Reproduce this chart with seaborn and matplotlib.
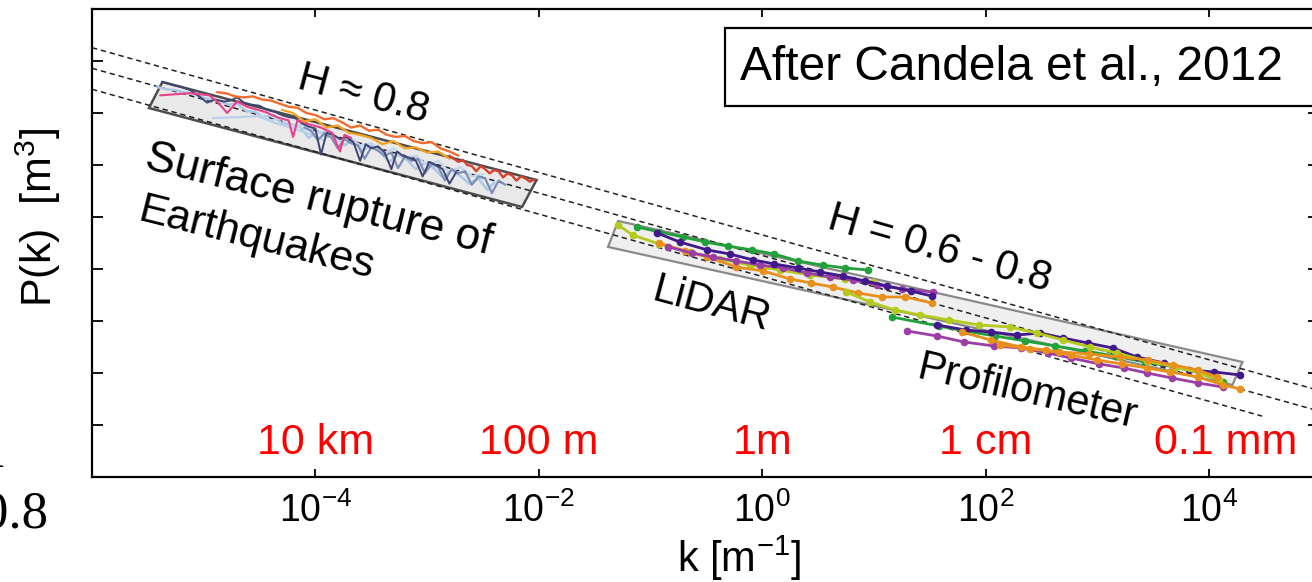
import numpy as np
import matplotlib
matplotlib.use("Agg")
import matplotlib.pyplot as plt
import matplotlib.transforms as mtransforms
from matplotlib.patches import Polygon, Rectangle
from matplotlib.ticker import NullLocator, FixedLocator, FixedFormatter
import seaborn as sns

sns.set_theme(style="ticks")
plt.rcParams['font.family'] = ['Liberation Sans', 'DejaVu Sans']
plt.rcParams['mathtext.fontset'] = 'custom'
plt.rcParams['mathtext.rm'] = 'Liberation Sans'
plt.rcParams['mathtext.it'] = 'Liberation Sans:italic'
plt.rcParams['mathtext.default'] = 'regular'

# ---------------- data (log10 k [1/m], log10 P(k)) ----------------
# reference power-law lines (endpoints)
ref_logk_start = [-6.0, -6.0, -6.0]
ref_logk_end = [4.985, 4.985, 4.475]
ref_logP_start = [16.28, 14.30, 12.28]
ref_logP_end = [-16.675, -18.655, -19.145]

# grey envelopes
box1_logk = [-5.37, -5.49, -2.15, -2.02]
box1_logP = [12.98, 10.48, 0.96, 3.56]
box2_logk = [-1.29, -1.38, 4.21, 4.30]
box2_logP = [-0.38, -2.88, -16.15, -13.94]

# surface rupture of earthquakes
eq_lightblue_logk = [-5.42, -5.34, -5.26, -5.18, -5.10, -5.02, -4.94, -4.86, -4.78, -4.70, -4.62, -4.54, -4.46,
                     -4.38, -4.30, -4.22, -4.14, -4.06, -3.98, -3.90, -3.82, -3.74, -3.66, -3.58, -3.50, -3.42,
                     -3.34, -3.26, -3.18, -3.10, -3.02, -2.94, -2.86, -2.78, -2.70, -2.62, -2.54, -2.46, -2.40]
eq_lightblue_logP = [12.5, 12.3, 12.2, 12.0, 11.9, 11.5, 11.3, 11.2, 10.8, 10.9, 10.2, 10.1, 9.6,
                     9.8, 9.0, 8.9, 8.7, 7.6, 8.3, 7.7, 7.8, 6.9, 7.4, 6.4, 6.9, 6.2,
                     5.3, 6.0, 5.5, 4.6, 5.2, 4.7, 3.8, 4.5, 3.9, 3.2, 3.7, 2.6, 3.3]
eq_paleblue_logk = [-4.50, -4.40, -4.30, -4.20, -4.10, -4.00, -3.90, -3.80, -3.70, -3.60, -3.50,
                    -3.40, -3.30, -3.20, -3.10, -3.00, -2.90, -2.80, -2.70, -2.60, -2.50]
eq_paleblue_logP = [9.9, 9.3, 9.5, 8.7, 8.9, 8.0, 8.3, 7.3, 7.7, 6.9, 7.1,
                    6.1, 6.6, 5.7, 5.9, 5.0, 5.4, 4.3, 4.8, 3.9, 4.1]
eq_lightblue2_logk = [-4.92, -4.70, -4.52, -4.35, -4.23, -4.05, -3.93]
eq_lightblue2_logP = [9.5, 9.6, 9.7, 9.0, 8.6, 8.0, 7.4]
eq_slate_logk = [-4.10, -4.04, -3.98, -3.92, -3.86, -3.80, -3.74, -3.68, -3.62, -3.56, -3.50, -3.44, -3.38,
                 -3.32, -3.26, -3.20, -3.14, -3.08, -3.02, -2.96, -2.90, -2.84, -2.78, -2.72, -2.66, -2.60,
                 -2.54, -2.48, -2.42, -2.36, -2.30]
eq_slate_logP = [8.6, 8.3, 7.4, 8.0, 7.7, 6.6, 7.5, 7.1, 6.9, 5.6, 6.7, 6.4, 5.9,
                 6.2, 4.7, 5.8, 5.4, 5.6, 4.2, 5.1, 4.8, 3.5, 4.6, 4.2, 4.4, 3.1,
                 3.9, 3.7, 2.3, 3.5, 3.1]
eq_navy_logk = [-5.37, -5.28, -5.20, -5.12, -5.04, -4.97, -4.90, -4.82, -4.76, -4.70, -4.64, -4.57, -4.50,
                -4.43, -4.36, -4.30, -4.24, -4.18, -4.12, -4.06, -4.00, -3.95, -3.90, -3.84, -3.78, -3.72,
                -3.66, -3.60, -3.55, -3.50, -3.44, -3.38, -3.32, -3.27, -3.22, -3.16, -3.10, -3.04, -2.98,
                -2.92, -2.86, -2.80, -2.74]
eq_navy_logP = [13.0, 12.7, 12.5, 12.2, 11.6, 11.0, 11.3, 11.1, 11.2, 11.5, 11.0, 10.8, 10.7,
                10.3, 10.1, 9.8, 9.6, 9.5, 9.0, 8.7, 8.5, 6.0, 8.1, 7.9, 7.5, 7.7,
                7.2, 5.4, 7.0, 6.6, 6.8, 6.2, 4.6, 6.3, 5.9, 5.7, 5.4, 3.9, 5.3,
                5.0, 4.6, 3.2, 4.3]
eq_pink_logk = [-5.39, -5.12, -4.95, -4.88, -4.79, -4.70, -4.61, -4.45, -4.32, -4.24, -4.20, -4.16,
                -4.05, -3.95, -3.85, -3.78, -3.74, -3.68]
eq_pink_logP = [11.7, 11.9, 11.7, 11.1, 10.0, 11.1, 10.6, 10.1, 9.5, 9.3, 7.7, 9.3,
                8.9, 8.6, 8.1, 6.3, 7.9, 7.6]
eq_amber_logk = [-4.30, -4.20, -4.10, -4.00, -3.90, -3.80, -3.70, -3.60, -3.50, -3.40, -3.30, -3.20,
                 -3.10, -3.00, -2.90, -2.80]
eq_amber_logP = [10.3, 10.0, 9.2, 9.4, 8.6, 8.8, 8.1, 7.9, 7.6, 7.0, 7.3, 6.6,
                 6.7, 6.2, 6.3, 5.6]
eq_orange_logk = [-4.88, -4.80, -4.72, -4.64, -4.56, -4.48, -4.40, -4.32, -4.24, -4.16, -4.08, -4.00, -3.92, -3.84,
                  -3.76, -3.68, -3.60, -3.52, -3.44, -3.36, -3.28, -3.20, -3.12, -3.04, -2.96, -2.88, -2.80, -2.72]
eq_orange_logP = [12.0, 11.9, 11.6, 11.5, 11.6, 11.3, 11.2, 10.9, 10.6, 10.5, 10.0, 9.8, 9.4, 9.5,
                  9.1, 8.6, 8.8, 8.3, 8.4, 7.9, 7.7, 7.8, 7.3, 7.1, 7.2, 6.6, 6.3, 5.9]
eq_red_logk = [-2.80, -2.76, -2.72, -2.68, -2.64, -2.60, -2.56, -2.52, -2.48, -2.44,
               -2.40, -2.36, -2.32, -2.28, -2.24, -2.20, -2.16, -2.12, -2.08, -2.04]
eq_red_logP = [5.9, 5.6, 5.3, 5.5, 5.0, 4.9, 4.4, 4.9, 4.6, 4.2,
               4.5, 4.4, 3.8, 4.2, 4.0, 3.5, 3.9, 3.7, 3.4, 3.6]

# LiDAR
lidar_green_logk = [-1.12, -0.92, -0.71, -0.51, -0.31, -0.09, 0.11, 0.32, 0.54, 0.74, 0.95]
lidar_green_logP = [-0.96, -1.44, -1.92, -2.40, -2.79, -3.17, -3.56, -4.23, -4.62, -4.90, -5.10]
lidar_indigo_logk = [-0.94, -0.74, -0.49, -0.29, -0.08, 0.11, 0.32, 0.52, 0.72, 0.92, 1.12, 1.33, 1.52]
lidar_indigo_logP = [-1.54, -2.40, -3.17, -3.56, -4.13, -4.52, -4.90, -5.29, -5.67, -6.15, -6.63, -7.12, -7.60]
lidar_magenta_logk = [-0.84, -0.63, -0.44, -0.23, -0.02, 0.19, 0.40, 0.61, 0.81, 1.03, 1.25, 1.53]
lidar_magenta_logP = [-2.88, -3.46, -3.85, -4.23, -4.62, -4.90, -5.38, -5.77, -6.06, -6.54, -6.92, -7.21]
lidar_orange_logk = [-0.92, -0.69, -0.49, -0.23, 0.01, 0.25, 0.44, 0.63, 0.86, 1.07, 1.28, 1.52]
lidar_orange_logP = [-2.50, -3.27, -3.85, -4.81, -5.19, -5.96, -6.35, -6.73, -7.31, -7.69, -7.69, -8.27]
lidar_lime_logk = [-1.29, -1.16, -0.92, -0.65, -0.38, -0.11, 0.16, 0.43, 0.74, 0.99]
lidar_lime_logP = [-0.77, -1.73, -2.60, -3.37, -4.04, -4.62, -5.10, -5.58, -5.96, -6.25]

# Profilometer
prof_green_logk = [1.162, 1.583, 1.816, 2.084, 2.353, 2.621, 2.890, 3.158, 3.427, 3.695, 3.919, 4.125]
prof_green_logP = [-9.62, -10.48, -10.96, -11.44, -11.92, -12.40, -12.88, -13.37, -13.94, -14.42, -15.00, -15.87]
prof_magenta_logk = [1.296, 1.565, 1.807, 2.075, 2.317, 2.559, 2.765, 3.016, 3.239, 3.445, 3.669, 3.902, 4.125]
prof_magenta_logP = [-10.96, -11.44, -12.02, -12.40, -12.60, -13.08, -13.56, -14.13, -14.52, -15.00, -15.48,
                     -15.96, -16.35]
prof_indigo_logk = [1.565, 1.825, 2.048, 2.281, 2.487, 2.693, 2.917, 3.141, 3.355, 3.597, 3.821, 4.045, 4.278]
prof_indigo_logP = [-10.38, -10.87, -11.06, -11.35, -11.15, -11.63, -12.12, -12.60, -13.46, -14.04, -14.71,
                    -14.90, -15.19]
prof_orange_logk = [1.789, 2.048, 2.317, 2.541, 2.765, 2.998, 3.221, 3.445, 3.651, 3.902, 4.125, 4.278]
prof_orange_logP = [-11.06, -11.83, -12.50, -12.79, -13.27, -13.75, -14.13, -14.52, -14.90, -15.38, -16.15, -16.54]
prof_orange2_logk = [2.13, 2.40, 2.66, 2.93, 3.20, 3.45, 3.68, 3.90, 4.07]
prof_orange2_logP = [-12.31, -12.69, -12.98, -13.17, -13.46, -13.75, -14.23, -14.71, -15.38]
prof_lime_logk = [0.750, 0.965, 1.189, 1.413, 1.672, 1.941, 2.218, 2.460, 2.693, 2.934, 3.176, 3.445, 3.696,
                  3.919, 4.089]
prof_lime_logP = [-7.21, -8.17, -8.94, -9.42, -9.90, -10.38, -10.58, -11.15, -11.83, -12.50, -13.08, -13.85,
                  -14.42, -15.00, -15.67]

# axis ticks and labels
xtick_values = [1e-4, 1e-2, 1e0, 1e2, 1e4]
xtick_labels = [r'$10^{-4}$', r'$10^{-2}$', r'$10^{0}$', r'$10^{2}$', r'$10^{4}$']
ytick_values = [1e-20, 1e-15, 1e-10, 1e-5, 1e0, 1e5, 1e10, 1e15]
scale_label_k = [1e-4, 1e-2, 1e0, 1e2, 1.4e4]
scale_label_text = ['10 km', '100 m', '1m', '1 cm', '0.1 mm']

# ---------------- figure ----------------
fig = plt.figure(figsize=(13.12, 5.82), dpi=100)
fig.patch.set_facecolor('white')
ax = fig.add_axes([92 / 1312, 105 / 582, 1227 / 1312, 468 / 582])
ax.set_facecolor('white')
ax.set_xscale('log')
ax.set_yscale('log')
ax.set_xlim(1e-6, 10 ** 4.985)
ax.set_ylim(1e-25, 1e20)


def P(a):
    return 10 ** np.asarray(a, dtype=float)


# envelopes
ax.add_patch(Polygon(np.column_stack([P(box1_logk), P(box1_logP)]), closed=True,
                     facecolor='#e9e9e9', edgecolor='#4d4d4d', lw=1.8, zorder=1))
ax.add_patch(Polygon(np.column_stack([P(box2_logk), P(box2_logP)]), closed=True,
                     facecolor='#efefef', edgecolor='#8a8a8a', lw=1.6, zorder=1))

# dashed reference lines
for k0, k1, p0, p1 in zip(ref_logk_start, ref_logk_end, ref_logP_start, ref_logP_end):
    ax.plot(P([k0, k1]), P([p0, p1]), color='#222222', lw=1.1, linestyle=(0, (3.5, 2.5)), zorder=2)

# earthquake spectra
eq_series = [
    (eq_lightblue_logk, eq_lightblue_logP, '#aec7e5', 1.8),
    (eq_paleblue_logk, eq_paleblue_logP, '#c3d6ec', 1.6),
    (eq_lightblue2_logk, eq_lightblue2_logP, '#b8d0ea', 1.5),
    (eq_slate_logk, eq_slate_logP, '#7d8fb8', 1.6),
    (eq_navy_logk, eq_navy_logP, '#3f4470', 1.4),
    (eq_pink_logk, eq_pink_logP, '#e8408c', 1.5),
    (eq_amber_logk, eq_amber_logP, '#f5a31f', 1.6),
    (eq_orange_logk, eq_orange_logP, '#f26a2c', 1.7),
    (eq_red_logk, eq_red_logP, '#d6402f', 1.7),
]
for lk, lp, c, w in eq_series:
    sns.lineplot(x=P(lk), y=P(lp), ax=ax, color=c, lw=w, sort=False, estimator=None, zorder=3)

# LiDAR + profilometer
mk_series = [
    (lidar_green_logk, lidar_green_logP, '#22a03a'),
    (lidar_lime_logk, lidar_lime_logP, '#b4ca1c'),
    (lidar_orange_logk, lidar_orange_logP, '#e8901c'),
    (lidar_magenta_logk, lidar_magenta_logP, '#9b3fa6'),
    (lidar_indigo_logk, lidar_indigo_logP, '#42198a'),
    (prof_green_logk, prof_green_logP, '#22a03a'),
    (prof_magenta_logk, prof_magenta_logP, '#9b3fa6'),
    (prof_indigo_logk, prof_indigo_logP, '#42198a'),
    (prof_lime_logk, prof_lime_logP, '#b4ca1c'),
    (prof_orange2_logk, prof_orange2_logP, '#e8901c'),
    (prof_orange_logk, prof_orange_logP, '#e8901c'),
]
for lk, lp, c in mk_series:
    sns.lineplot(x=P(lk), y=P(lp), ax=ax, color=c, lw=2.0, marker='o', markersize=5.5,
                 markeredgewidth=0, sort=False, estimator=None, zorder=4)

# axes styling
for s in ax.spines.values():
    s.set_visible(True)
    s.set_color('black')
    s.set_linewidth(1.6)
ax.xaxis.set_major_locator(FixedLocator(xtick_values))
ax.xaxis.set_major_formatter(FixedFormatter(xtick_labels))
ax.xaxis.set_minor_locator(NullLocator())
ax.yaxis.set_major_locator(FixedLocator(ytick_values))
ax.yaxis.set_minor_locator(NullLocator())
ax.tick_params(axis='x', which='major', direction='in', length=6, width=1.3, top=True,
               labelsize=27, pad=11, colors='black')
ax.tick_params(axis='y', which='major', direction='in', length=8, width=1.3, right=True,
               labelleft=False, colors='black')

ax.set_xlabel(r'k [m$^{-1}$]', fontsize=30, color='black')
ax.xaxis.set_label_coords(0.527, -0.121)
ax.xaxis.label.set_va('top')
ax.set_ylabel(r'P(k)  [m$^{3}$]', fontsize=31, color='black')
ax.yaxis.set_label_coords(-0.024, 0.556)

# red length-scale labels
trans = mtransforms.blended_transform_factory(ax.transData, ax.transAxes)
for k, t in zip(scale_label_k, scale_label_text):
    ax.text(k, 0.073, t, transform=trans, color='#ff0000', fontsize=31, ha='center', va='center', zorder=6)

# annotations
ann = dict(rotation_mode='anchor', ha='left', va='baseline', color='black', zorder=6)
ax.text(10 ** -4.17, 10 ** 12.4, 'H ≈ 0.8', rotation=-15, fontsize=30, **ann)
ax.text(10 ** 0.57, 10 ** -1.06, 'H = 0.6 - 0.8', rotation=-16, fontsize=30, **ann)
ax.text(10 ** -5.54, 10 ** 4.71, 'Surface rupture of', rotation=-14, fontsize=32, **ann)
ax.text(10 ** -5.60, 10 ** -0.29, 'Earthquakes', rotation=-14, fontsize=31, **ann)
ax.text(10 ** -1.00, 10 ** -7.98, 'LiDAR', rotation=-15, fontsize=30, **ann)
ax.text(10 ** 1.37, 10 ** -15.48, 'Profilometer', rotation=-13, fontsize=30, **ann)

# source box
ax.add_patch(Rectangle((0.5159, 0.7927), 0.55, 0.1667, transform=ax.transAxes, facecolor='white',
                       edgecolor='black', lw=1.6, zorder=7, clip_on=False))
ax.text(0.5281, 0.876, 'After Candela et al., 2012', transform=ax.transAxes, fontsize=34.5,
        ha='left', va='center', color='black', zorder=8)

# fragments of neighbouring figure at the left edge
fig.text(6 / 1312, 1 - 454 / 582, '1', ha='right', va='center', fontsize=38,
         family=['Liberation Serif', 'DejaVu Serif'], color='black')
fig.text(48 / 1312, 1 - 514 / 582, '0.8', ha='right', va='center', fontsize=38,
         family=['Liberation Serif', 'DejaVu Serif'], color='black')

fig.savefig('out.png', dpi=100, facecolor='white')
